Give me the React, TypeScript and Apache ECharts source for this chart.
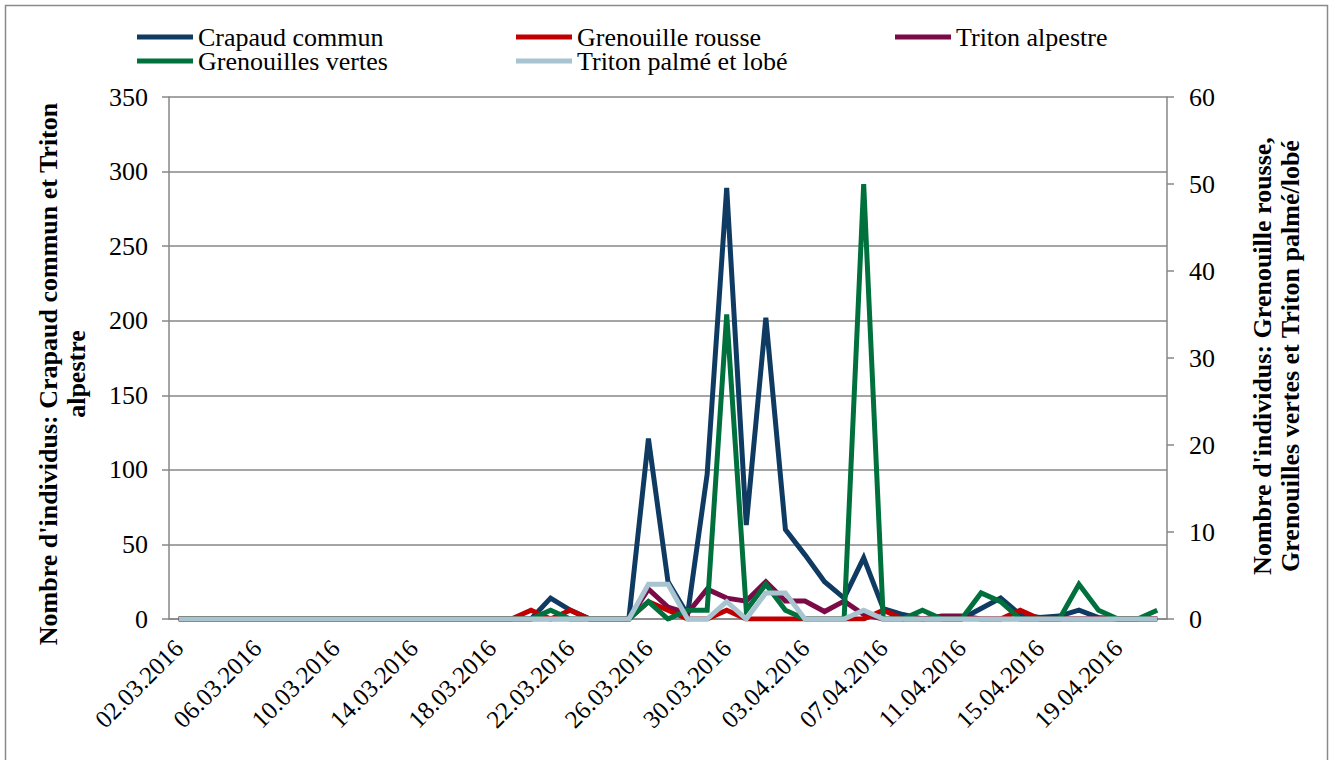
import React, { useEffect, useRef } from 'react';
import * as echarts from 'echarts';

const dates: string[] = [
  '02.03.2016', '03.03.2016', '04.03.2016', '05.03.2016', '06.03.2016', '07.03.2016', '08.03.2016', '09.03.2016',
  '10.03.2016', '11.03.2016', '12.03.2016', '13.03.2016', '14.03.2016', '15.03.2016', '16.03.2016', '17.03.2016',
  '18.03.2016', '19.03.2016', '20.03.2016', '21.03.2016', '22.03.2016', '23.03.2016', '24.03.2016', '25.03.2016',
  '26.03.2016', '27.03.2016', '28.03.2016', '29.03.2016', '30.03.2016', '31.03.2016', '01.04.2016', '02.04.2016',
  '03.04.2016', '04.04.2016', '05.04.2016', '06.04.2016', '07.04.2016', '08.04.2016', '09.04.2016', '10.04.2016',
  '11.04.2016', '12.04.2016', '13.04.2016', '14.04.2016', '15.04.2016', '16.04.2016', '17.04.2016', '18.04.2016',
  '19.04.2016', '20.04.2016', '21.04.2016',
];

// Primary axis (left)
const crapaudCommun: number[] = [
  0, 0, 0, 0, 0, 0, 0, 0, 0, 0, 0, 0, 0, 0, 0, 0, 0, 0, 0, 14,
  6, 0, 0, 0, 121, 25, 3, 97, 289, 63, 202, 60, 43, 25, 14, 41,
  7, 3, 0, 0, 0, 7, 14, 3, 1, 2, 6, 1, 0, 0, 0,
];
const tritonAlpestre: number[] = [
  0, 0, 0, 0, 0, 0, 0, 0, 0, 0, 0, 0, 0, 0, 0, 0, 0, 0, 0, 0,
  0, 0, 0, 0, 20, 8, 4, 20, 14, 12, 25, 12, 12, 5, 12, 3,
  0, 0, 0, 2, 2, 0, 0, 0, 0, 0, 0, 0, 0, 0, 0,
];
// Secondary axis (right)
const grenouilleRousse: number[] = [
  0, 0, 0, 0, 0, 0, 0, 0, 0, 0, 0, 0, 0, 0, 0, 0, 0, 0, 1, 0,
  1, 0, 0, 0, 2, 1, 0, 0, 1, 0, 0, 0, 0, 0, 0, 0,
  1, 0, 0, 0, 0, 0, 0, 1, 0, 0, 0, 0, 0, 0, 0,
];
const grenouillesVertes: number[] = [
  0, 0, 0, 0, 0, 0, 0, 0, 0, 0, 0, 0, 0, 0, 0, 0, 0, 0, 0, 1,
  0, 0, 0, 0, 2, 0, 1, 1, 35, 1, 4, 1, 0, 0, 0, 50,
  0, 0, 1, 0, 0, 3, 2, 0, 0, 0, 4, 1, 0, 0, 1,
];
const tritonPalme: number[] = [
  0, 0, 0, 0, 0, 0, 0, 0, 0, 0, 0, 0, 0, 0, 0, 0, 0, 0, 0, 0,
  0, 0, 0, 0, 4, 4, 0, 0, 2, 0, 3, 3, 0, 0, 0, 1,
  0, 0, 0, 0, 0, 0, 0, 0, 0, 0, 0, 0, 0, 0, 0,
];

const leftTitle = "Nombre d'individus: Crapaud commun et Triton\nalpestre";
const rightTitle = "Nombre d'individus: Grenouille rousse,\nGrenouilles vertes et Triton palmé/lobé";

const FONT = '"Liberation Serif", "Times New Roman", serif';
const GRAY = '#878787';

export default function App() {
  const ref = useRef<HTMLDivElement>(null);
  useEffect(() => {
    const chart = echarts.init(ref.current!, null, { renderer: 'svg' });
    const legendText = { fontFamily: FONT, fontSize: 26, color: '#000', lineHeight: 22 };
    const mkLegend = (name: string, left: number, top: number) => ({
      data: [name], left, top, itemWidth: 56, itemHeight: 5, icon: 'rect', itemGap: 0,
      textStyle: legendText, padding: 0,
    });
    const axisLabelStyle = { fontFamily: FONT, fontSize: 26, color: '#000' };
    const mkSeries = (name: string, yAxisIndex: number, data: number[], color: string) => ({
      name, type: 'line', yAxisIndex, data, showSymbol: false, symbol: 'none', color,
      lineStyle: { width: 5, color, join: 'miter' },
    });
    chart.setOption({
      animation: false,
      backgroundColor: '#fff',
      grid: { left: 169, right: 170, top: 97, bottom: 141, containLabel: false },
      legend: [
        mkLegend('Crapaud commun', 137, 24),
        mkLegend('Grenouille rousse', 516, 24),
        mkLegend('Triton alpestre', 895, 24),
        mkLegend('Grenouilles vertes', 137, 48),
        mkLegend('Triton palmé et lobé', 516, 48),
      ],
      xAxis: {
        type: 'category', data: dates, boundaryGap: true,
        axisLine: { lineStyle: { color: GRAY, width: 1.5 } },
        axisTick: { interval: 3, length: 6, lineStyle: { color: GRAY, width: 1.5 } },
        axisLabel: { interval: 3, rotate: 45, margin: 25, fontFamily: FONT, fontSize: 25, color: '#000' },
        splitLine: { show: false },
      },
      yAxis: [
        {
          type: 'value', min: 0, max: 350, interval: 50, position: 'left',
          axisLine: { show: true, lineStyle: { color: GRAY, width: 1.5 } },
          axisTick: { show: true, length: 7, lineStyle: { color: GRAY, width: 1.5 } },
          splitLine: { show: true, lineStyle: { color: GRAY, width: 1.5 } },
          axisLabel: { ...axisLabelStyle, margin: 21 },
        },
        {
          type: 'value', min: 0, max: 60, interval: 10, position: 'right',
          axisLine: { show: true, lineStyle: { color: GRAY, width: 1.5 } },
          axisTick: { show: true, length: 7, lineStyle: { color: GRAY, width: 1.5 } },
          splitLine: { show: false },
          axisLabel: { ...axisLabelStyle, margin: 22 },
        },
      ],
      series: [
        mkSeries('Crapaud commun', 0, crapaudCommun, '#0F3B63'),
        mkSeries('Triton alpestre', 0, tritonAlpestre, '#7A0B46'),
        mkSeries('Grenouille rousse', 1, grenouilleRousse, '#C00000'),
        mkSeries('Grenouilles vertes', 1, grenouillesVertes, '#00703C'),
        mkSeries('Triton palmé et lobé', 1, tritonPalme, '#A9C4D1'),
      ],
      graphic: [
        {
          type: 'rect', silent: true, z: -1,
          shape: { x: 5.5, y: 5.5, width: 1322, height: 770 },
          style: { fill: 'none', stroke: '#8a8a8a', lineWidth: 1.5 },
        },
        {
          type: 'text', x: 62, y: 374, rotation: Math.PI / 2,
          style: {
            text: leftTitle, fontFamily: FONT, fontSize: 26, fontWeight: 'bold', fill: '#000',
            align: 'center', verticalAlign: 'middle', textAlign: 'center', textVerticalAlign: 'middle', lineHeight: 28,
          },
        },
        {
          type: 'text', x: 1276, y: 356, rotation: Math.PI / 2,
          style: {
            text: rightTitle, fontFamily: FONT, fontSize: 26, fontWeight: 'bold', fill: '#000',
            align: 'center', verticalAlign: 'middle', textAlign: 'center', textVerticalAlign: 'middle', lineHeight: 28,
          },
        },
      ],
    });
    return () => chart.dispose();
  }, []);
  return <div ref={ref} style={{ position: 'fixed', left: 0, top: 0, width: 1337, height: 760, background: '#fff' }} />;
}
